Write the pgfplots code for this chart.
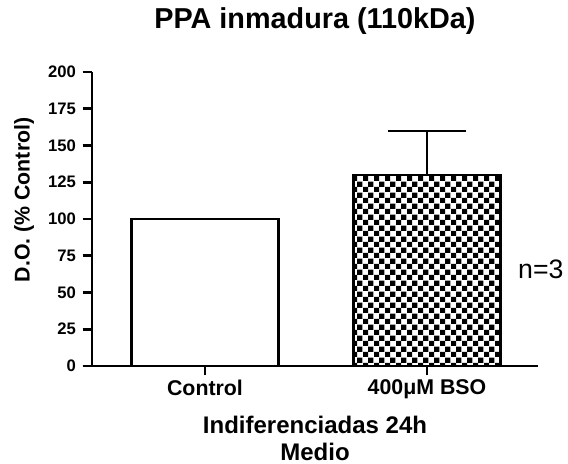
\documentclass[border=0pt]{standalone}
\usepackage{fontspec}
\setmainfont{Liberation Sans}
\usepackage{pgfplots}
\pgfplotsset{compat=1.18}
\usetikzlibrary{patterns}
\pgfdeclarepatternformonly{mycheck}{\pgfpointorigin}{\pgfqpoint{8pt}{8pt}}{\pgfqpoint{8pt}{8pt}}{%
 \pgfpathrectangle{\pgfpointorigin}{\pgfqpoint{4pt}{4pt}}%
 \pgfpathrectangle{\pgfqpoint{4pt}{4pt}}{\pgfqpoint{4pt}{4pt}}%
 \pgfusepath{fill}}

\begin{document}
\begin{tikzpicture}
\path[use as bounding box] (-69pt,-73.5pt) rectangle (357pt,274.5pt);
\begin{axis}[
 at={(0,0)}, anchor=south west,
 scale only axis, width=334.5pt, height=220.5pt,
 xmin=-0.509, xmax=1.5, ymin=0, ymax=200,
 axis lines*=left,
 axis line style={line width=2pt},
 xtick={0,1}, xticklabels={Control,400μM BSO},
 ytick={0,25,...,200},
 tick align=outside, major tick length=7pt,
 every tick/.style={black, line width=2pt},
 /pgf/number format/assume math mode=true,
 yticklabel style={font=\fontsize{12.5}{14}\selectfont\bfseries, xshift=-1.5pt},
 xticklabel style={font=\fontsize{16}{19}\selectfont\bfseries},
 title={PPA inmadura (110kDa)},
 title style={font=\fontsize{21.6}{24}\selectfont\bfseries, at={(axis description cs:0.5,1.122)}, anchor=base},
 ylabel={D.O. (\% Control)},
 ylabel style={font=\fontsize{16}{19}\selectfont\bfseries, at={(axis description cs:-0.152,0.565)}, anchor=center},
 xlabel={Indiferenciadas 24h\\Medio},
 xlabel style={font=\fontsize{18}{20}\selectfont\bfseries, align=center, at={(axis description cs:0.5,-0.155)}, anchor=north},
 clip=false,
]
\addplot[ybar, bar width=0.662, bar shift=0pt, draw=black, line width=2pt, fill=white] coordinates {(0,100)};
\addplot[ybar, bar width=0.662, bar shift=0pt, draw=black, line width=2pt, pattern=mycheck,
  error bars/.cd, y dir=plus, y explicit,
  error bar style={line width=1.5pt},
  error mark options={rotate=90, mark size=29pt, line width=1.5pt}]
  coordinates {(1,130) +- (0,30)};
\node[anchor=base west, inner sep=0pt, font=\fontsize{20}{24}\selectfont] at (rel axis cs:0.955,0.299) {n=3};
\end{axis}
\end{tikzpicture}
\end{document}
